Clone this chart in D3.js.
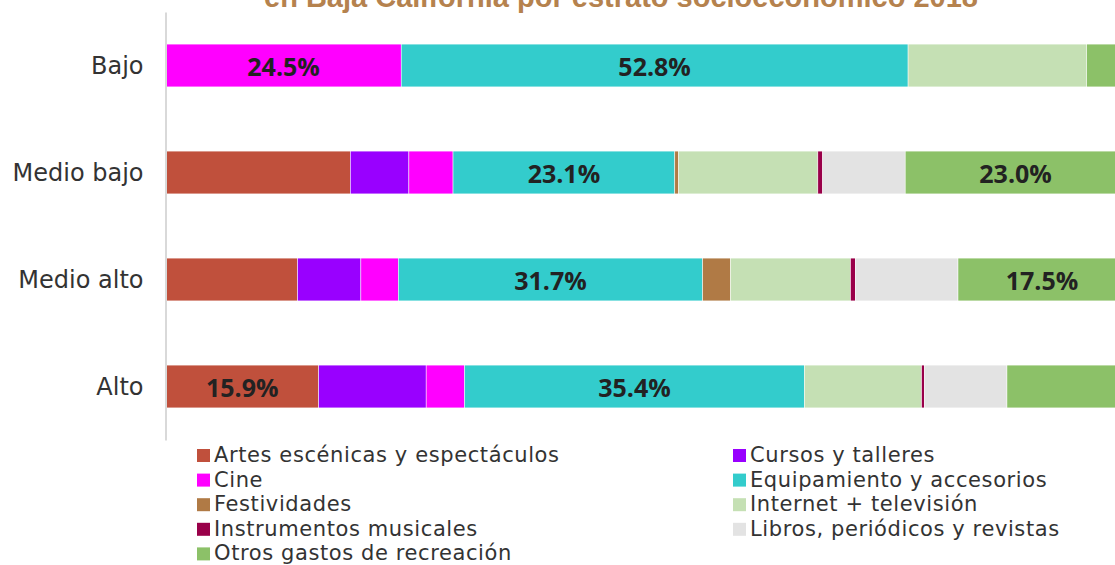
<!DOCTYPE html>
<html>
<head>
<meta charset="utf-8">
<script src="https://cdn.jsdelivr.net/npm/d3@7"></script>
<style>
  body { margin: 0; background: #fff; }
  svg { display: block; }
</style>
</head>
<body>
<svg id="chart"></svg>
<script>
const width = 1115;
const height = 565;

// estratos y rubros de gasto
const strata = ['Bajo', 'Medio bajo', 'Medio alto', 'Alto'];
const seriesNames = [
  'Artes escénicas y espectáculos',
  'Cursos y talleres',
  'Cine',
  'Equipamiento y accesorios',
  'Festividades',
  'Internet + televisión',
  'Instrumentos musicales',
  'Libros, periódicos y revistas',
  'Otros gastos de recreación'
];
const seriesColors = ['#c0503c', '#9900ff', '#ff00ff', '#33cccc', '#b07a45', '#c5e0b4', '#990049', '#e3e3e3', '#8cc168'];

// porcentajes por estrato (Bajo, Medio bajo, Medio alto, Alto)
const artes        = [0,    19.2, 13.7, 15.9];
const cursos       = [0,    6.1,  6.6,  11.2];
const cine         = [24.5, 4.6,  3.9,  4.0];
const equipamiento = [52.8, 23.1, 31.7, 35.4];
const festividades = [0,    0.4,  2.9,  0];
const internet     = [18.6, 14.5, 12.5, 12.2];
const instrumentos = [0,    0.5,  0.5,  0.3];
const libros       = [0,    8.6,  10.7, 8.6];
const otros        = [4.1,  23.0, 17.5, 12.4];

// etiquetas visibles: [estrato, rubro]
const shownLabels = [
  ['Bajo', 'Cine'], ['Bajo', 'Equipamiento y accesorios'],
  ['Medio bajo', 'Equipamiento y accesorios'], ['Medio bajo', 'Otros gastos de recreación'],
  ['Medio alto', 'Equipamiento y accesorios'], ['Medio alto', 'Otros gastos de recreación'],
  ['Alto', 'Artes escénicas y espectáculos'], ['Alto', 'Equipamiento y accesorios']
];

const titleText = 'en Baja California por estrato socioeconómico 2018';

const allValues = [artes, cursos, cine, equipamiento, festividades, internet, instrumentos, libros, otros];
const table = strata.map((s, i) => {
  const row = {stratum: s};
  seriesNames.forEach((n, j) => row[n] = allValues[j][i]);
  return row;
});

const svg = d3.select('#chart')
  .attr('width', width)
  .attr('height', height);

const x = d3.scaleLinear().domain([0, 100]).range([166, 1126]);
const y = d3.scaleBand().domain(strata).range([12, 440]).paddingInner(0.6).paddingOuter(0.3);
const color = d3.scaleOrdinal().domain(seriesNames).range(seriesColors);

const stacked = d3.stack().keys(seriesNames)(table);

svg.append('g')
  .selectAll('g')
  .data(stacked).enter().append('g')
    .attr('fill', s => color(s.key))
  .selectAll('rect')
  .data(s => s).enter().append('rect')
    .attr('x', d => x(d[0]))
    .attr('y', d => y(d.data.stratum))
    .attr('width', d => x(d[1]) - x(d[0]))
    .attr('height', y.bandwidth())
    .attr('stroke', d => (d[1] - d[0]) > 0 ? '#fff' : 'none')
    .attr('stroke-width', 0.5);

// eje vertical
const yAxis = svg.append('g')
  .attr('transform', 'translate(165.5, 0)')
  .call(d3.axisLeft(y).tickSize(0).tickPadding(22));
yAxis.select('.domain').attr('stroke', '#d9d9d9').attr('stroke-width', 2);
yAxis.selectAll('text')
  .attr('font-family', 'DejaVu Sans')
  .attr('font-size', 24)
  .attr('fill', '#333')
  .attr('dy', '0.36em');

// etiquetas de valor
const labelData = shownLabels.map(([s, k]) => {
  const layer = stacked.find(l => l.key === k);
  const d = layer[strata.indexOf(s)];
  return {s, v: d[1] - d[0], mid: (d[0] + d[1]) / 2};
});
svg.append('g')
  .selectAll('text')
  .data(labelData).enter().append('text')
    .attr('x', d => x(d.mid))
    .attr('y', d => y(d.s) + y.bandwidth() / 2)
    .attr('dy', '0.43em')
    .attr('text-anchor', 'middle')
    .attr('font-family', 'Open Sans')
    .attr('font-weight', 700)
    .attr('font-size', 25)
    .attr('fill', '#222')
    .text(d => d3.format('.1f')(d.v) + '%');

// leyenda
const legend = svg.append('g')
  .selectAll('g')
  .data(seriesNames).enter().append('g')
    .attr('transform', (d, i) => `translate(${i % 2 === 0 ? 197 : 733}, ${455.5 + Math.floor(i / 2) * 24.6})`);
legend.append('rect')
  .attr('x', 0).attr('y', -6.5)
  .attr('width', 13).attr('height', 13)
  .attr('fill', d => color(d));
legend.append('text')
  .attr('x', 17).attr('y', 6.5)
  .attr('font-family', 'DejaVu Sans')
  .attr('font-size', 21)
  .attr('letter-spacing', 0.6)
  .attr('fill', '#333')
  .text(d => d);

// título (recortado en la parte superior)
svg.append('text')
  .attr('x', 621).attr('y', 6.5)
  .attr('text-anchor', 'middle')
  .attr('font-family', 'Liberation Sans')
  .attr('font-weight', 700)
  .attr('font-size', 29)
  .attr('fill', '#b5824e')
  .text(titleText);
</script>
</body>
</html>
